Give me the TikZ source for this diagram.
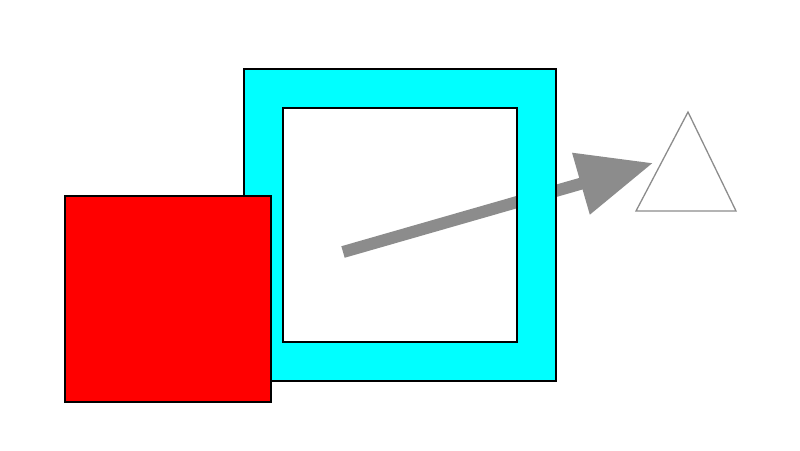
\documentclass[tikz,border=0pt]{standalone}
\usepackage{xcolor}
\usepackage{tikz}
\usetikzlibrary{arrows.meta}
\definecolor{arrowgray}{HTML}{8C8C8C}
\definecolor{framecyan}{HTML}{00FFFF}

\begin{document}
\begin{tikzpicture}[x=1pt,y=-1pt]
                \useasboundingbox (0,0) rectangle (800,450);

                \coordinate (s) at (343,252);
                \coordinate (t) at (653,163);
                \draw[arrowgray,line width=12pt,-{Triangle[length=75pt,width=61pt]}] (s)--(t);

                \fill[framecyan,even odd rule] (244,69) rectangle (556,381) (283,108) rectangle (517,342);
                \draw[black,line width=1.2pt] (244,69) rectangle (556,381) (283,108) rectangle (517,342);

                \draw[style={fill=red,draw=black,line width=1.2pt}] (65,196) rectangle (271,402);

                \coordinate (p) at (688,112);
                \coordinate (q) at (636,211);
                \coordinate (r) at (736,211);
                \draw[arrowgray,line width=1.3pt] (p)--(q)--(r)--cycle;

                \end{tikzpicture}
\end{document}
